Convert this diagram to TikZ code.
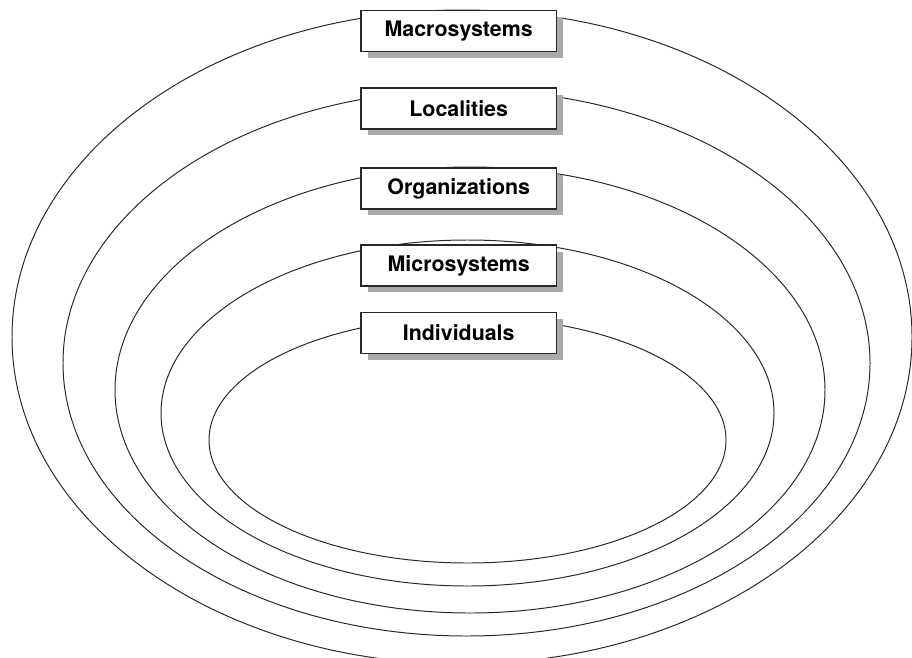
\documentclass[tikz,border=0pt]{standalone}
\usepackage{fontspec}
\setmainfont{TeX Gyre Heros}
\usetikzlibrary{shadows}
\definecolor{EcoInk}{RGB}{40,40,40}
\definecolor{EcoShade}{RGB}{170,170,172}
\tikzset{
  eco/ring/.style={draw=EcoInk, line width=0.7pt},
  eco/box/.style={
    draw=EcoInk,
    line width=1pt,
    fill=white,
    align=center,
    text=black,
    minimum width=4.88cm,
    minimum height=1.02cm,
    inner sep=0pt,
    font=\fontsize{15.2}{18}\selectfont\bfseries,
    drop shadow={shadow xshift=4.6pt, shadow yshift=-4.6pt, fill=EcoShade, opacity=1}
  }
}
\begin{document}
\begin{tikzpicture}[x=0.025cm,y=-0.025cm]
  \useasboundingbox (0,0) rectangle (912,657);
  \clip (0,0) rectangle (912,657);
  % nested rings, outermost first
  \draw[eco/ring] (462,337) ellipse [x radius=450, y radius=327];
  \draw[eco/ring] (466.5,363) ellipse [x radius=403.5, y radius=273];
  \draw[eco/ring] (470,390) ellipse [x radius=355, y radius=223];
  \draw[eco/ring] (467.5,413) ellipse [x radius=306.5, y radius=173];
  \draw[eco/ring] (467.5,440) ellipse [x radius=258.5, y radius=123];
  % level labels
  \node[eco/box] (macro) at (458.7,31) {Macrosystems};
  \node[eco/box] (local) at (458.7,108.5) {Localities};
  \node[eco/box] (org) at (458.7,188.5) {Organizations};
  \node[eco/box] (micro) at (458.7,265.5) {Microsystems};
  \node[eco/box] (indiv) at (458.7,333) {Individuals};
\end{tikzpicture}
\end{document}
